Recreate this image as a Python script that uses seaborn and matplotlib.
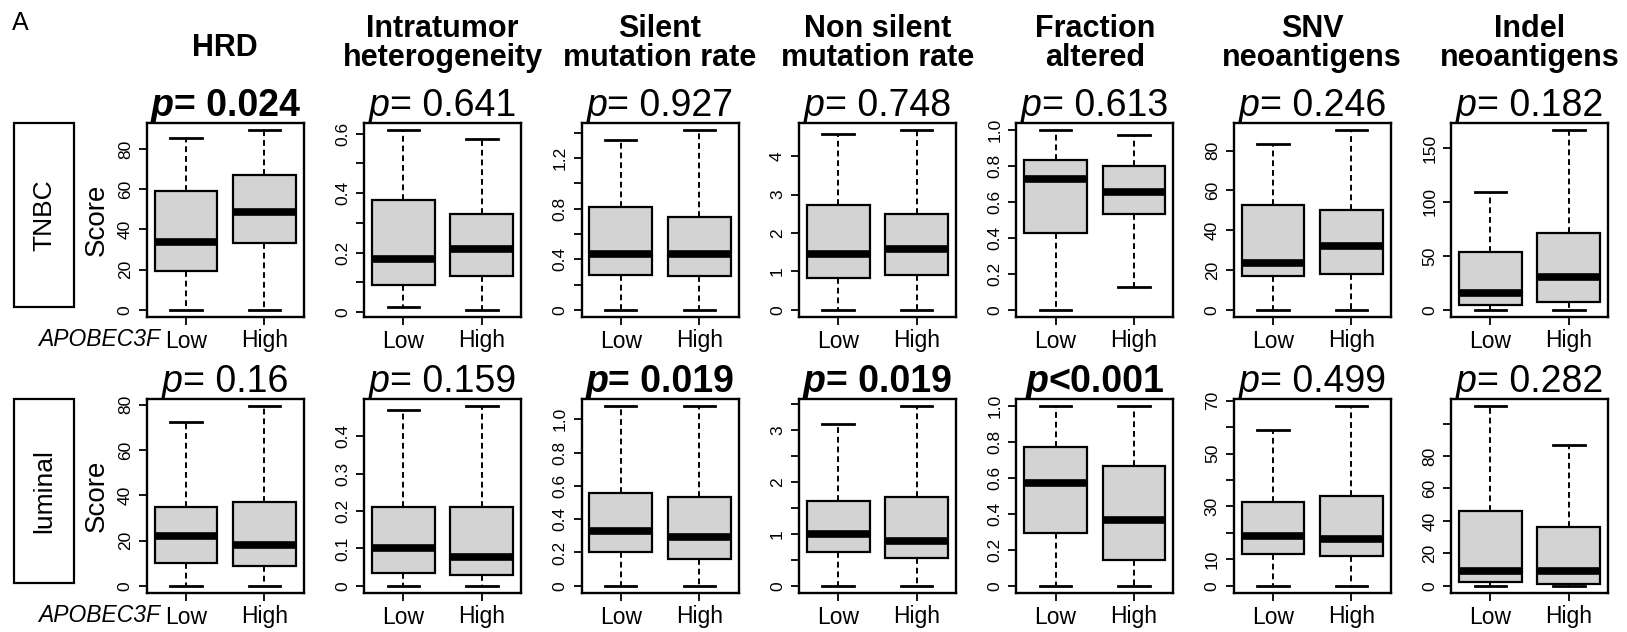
import numpy as np
import pandas as pd
import seaborn as sns
import matplotlib.pyplot as plt
from matplotlib.patches import Rectangle

# ---- data ----
metrics = ["HRD", "Intratumor\nheterogeneity", "Silent\nmutation rate",
           "Non silent\nmutation rate", "Fraction\naltered",
           "SNV\nneoantigens", "Indel\nneoantigens"]
groups = ["Low", "High"]
subtypes = ["TNBC", "luminal"]

tnbc_p = ["= 0.024", "= 0.641", "= 0.927", "= 0.748", "= 0.613", "= 0.246", "= 0.182"]
tnbc_sig = [True, False, False, False, False, False, False]
luminal_p = ["= 0.16", "= 0.159", "= 0.019", "= 0.019", "<0.001", "= 0.499", "= 0.282"]
luminal_sig = [False, False, True, True, True, False, False]

# box stats per group: [lower whisker, Q1, median, Q3, upper whisker]
tnbc_low = [[0, 19.3, 33.7, 59.2, 85.2], [0.017, 0.090, 0.179, 0.376, 0.612],
            [0, 0.278, 0.440, 0.811, 1.340], [0, 0.84, 1.45, 2.72, 4.57],
            [0, 0.430, 0.726, 0.832, 1.0], [0, 16.8, 23.6, 52.9, 83.4],
            [0, 4.0, 15.5, 54.0, 109.0]]
tnbc_high = [[0, 33.0, 48.5, 67.2, 89.3], [0.008, 0.121, 0.211, 0.330, 0.581],
             [0, 0.265, 0.445, 0.731, 1.420], [0, 0.90, 1.58, 2.49, 4.68],
             [0.127, 0.531, 0.657, 0.801, 0.974], [0, 18.2, 32.2, 50.4, 90.3],
             [0, 6.8, 30.4, 71.4, 166.5]]
luminal_low = [[0, 10.2, 22.0, 35.0, 72.2], [0, 0.035, 0.102, 0.210, 0.470],
               [0, 0.201, 0.331, 0.556, 1.078], [0, 0.658, 1.0, 1.645, 3.116],
               [0, 0.292, 0.570, 0.771, 1.0], [0, 12.0, 18.8, 31.5, 58.8],
               [0, 2.5, 9.1, 46.2, 110.7]]
luminal_high = [[0, 8.9, 18.0, 37.0, 79.3], [0, 0.030, 0.078, 0.210, 0.481],
                [0, 0.161, 0.293, 0.532, 1.078], [0, 0.529, 0.865, 1.71, 3.465],
                [0, 0.143, 0.369, 0.669, 1.0], [0, 11.25, 17.7, 34.0, 67.9],
                [0, 1.4, 9.1, 36.3, 86.6]]

tnbc_yticks = [[0, 20, 40, 60, 80], [0, 0.1, 0.2, 0.3, 0.4, 0.5, 0.6],
               [0, 0.2, 0.4, 0.6, 0.8, 1.0, 1.2, 1.4], [0, 1, 2, 3, 4],
               [0, 0.2, 0.4, 0.6, 0.8, 1.0], [0, 20, 40, 60, 80], [0, 50, 100, 150]]
tnbc_ylabels = [["0", "20", "40", "60", "80"], ["0", "", "0.2", "", "0.4", "", "0.6"],
                ["0", "", "0.4", "", "0.8", "", "1.2", ""], ["0", "1", "2", "3", "4"],
                ["0", "0.2", "0.4", "0.6", "0.8", "1.0"], ["0", "20", "40", "60", "80"],
                ["0", "50", "100", "150"]]
luminal_yticks = [[0, 20, 40, 60, 80], [0, 0.1, 0.2, 0.3, 0.4],
                  [0, 0.2, 0.4, 0.6, 0.8, 1.0], [0, 0.5, 1, 1.5, 2, 2.5, 3, 3.5],
                  [0, 0.2, 0.4, 0.6, 0.8, 1.0], [0, 10, 20, 30, 40, 50, 60, 70],
                  [0, 20, 40, 60, 80, 100]]
luminal_ylabels = [["0", "20", "40", "60", "80"], ["0", "0.1", "0.2", "0.3", "0.4"],
                   ["0", "0.2", "0.4", "0.6", "0.8", "1.0"],
                   ["0", "", "1", "", "2", "", "3", ""],
                   ["0", "0.2", "0.4", "0.6", "0.8", "1.0"],
                   ["0", "10", "", "30", "", "50", "", "70"],
                   ["0", "20", "40", "60", "80", ""]]

rows = [
    (tnbc_low, tnbc_high, tnbc_p, tnbc_sig, tnbc_yticks, tnbc_ylabels),
    (luminal_low, luminal_high, luminal_p, luminal_sig, luminal_yticks, luminal_ylabels),
]

# ---- layout (pixels) ----
W, H = 1627, 632
plt.rcParams["font.family"] = ["Liberation Sans", "DejaVu Sans"]
plt.rcParams["text.color"] = "black"

fig = plt.figure(figsize=(W / 100, H / 100), dpi=100)
renderer = fig.canvas.get_renderer()

panel_left0, panel_step, panel_w = 146.7, 217.4, 157
row_top = [123, 399]
panel_h = 194


def fx(x):
    return x / W


def fy(y):
    return 1 - y / H


def p_label(xc, ybase, txt, bold):
    weight = "bold" if bold else "normal"
    t1 = fig.text(0, fy(ybase), "p", fontsize=27, style="italic", weight=weight,
                  ha="left", va="baseline")
    t2 = fig.text(0, fy(ybase), txt, fontsize=27, weight=weight,
                  ha="left", va="baseline")
    w1 = t1.get_window_extent(renderer).width
    w2 = t2.get_window_extent(renderer).width
    x0 = xc - (w1 + w2) / 2
    t1.set_x(fx(x0))
    t2.set_x(fx(x0 + w1))


for r, (low, high, pv, sig, yt, yl) in enumerate(rows):
    top = row_top[r]
    for i in range(len(metrics)):
        left = panel_left0 + panel_step * i
        ax = fig.add_axes([fx(left), fy(top + panel_h), panel_w / W, panel_h / H])
        df = pd.DataFrame({"group": [groups[0]] * 5 + [groups[1]] * 5,
                           "value": low[i] + high[i]})
        sns.boxplot(data=df, x="group", y="value", order=groups, ax=ax,
                    whis=(0, 100), width=0.8, color="#d3d3d3", saturation=1,
                    linecolor="black", linewidth=1.6, showfliers=False,
                    medianprops=dict(linewidth=5.5, color="black"),
                    whiskerprops=dict(linestyle=(0, (3, 2)), linewidth=1.4),
                    capprops=dict(linewidth=2))
        vals = low[i] + high[i]
        lo, hi = min(vals), max(vals)
        rng = hi - lo
        ax.set_ylim(lo - 0.04 * rng, hi + 0.04 * rng)
        ax.set_xlim(-0.5, 1.5)
        ax.set_xlabel("")
        ax.set_ylabel("")
        ax.set_yticks(yt[i])
        ax.set_yticklabels(yl[i], rotation=90, va="center", fontsize=12.5)
        ax.set_xticks([0, 1])
        ax.set_xticklabels(groups, fontsize=16.5)
        ax.tick_params(axis="both", length=6, width=1.3, colors="black")
        ax.tick_params(axis="y", pad=4)
        ax.tick_params(axis="x", pad=3)
        for sp in ax.spines.values():
            sp.set_visible(True)
            sp.set_linewidth(1.7)
            sp.set_color("black")

        xc = left + panel_w / 2
        p_label(xc, top - 7, pv[i], sig[i])

        if r == 0:
            lines = metrics[i].split("\n")
            if len(lines) == 1:
                fig.text(fx(xc), fy(56), lines[0], fontsize=22, weight="bold",
                         ha="center", va="baseline")
            else:
                fig.text(fx(xc), fy(37), lines[0], fontsize=22, weight="bold",
                         ha="center", va="baseline")
                fig.text(fx(xc), fy(66), lines[1], fontsize=22, weight="bold",
                         ha="center", va="baseline")

        if i == 0:
            fig.text(fx(97), fy(top + panel_h / 2), "Score", fontsize=20,
                     rotation=90, ha="center", va="center")
            fig.text(fx(160), fy(top + panel_h + 29), "APOBEC3F", fontsize=16.5,
                     style="italic", ha="right", va="baseline")

    # subtype label box
    box_top, box_bot = top, top + 184
    fig.patches.append(Rectangle((fx(14), fy(box_bot)), 60 / W, (box_bot - box_top) / H,
                                 transform=fig.transFigure, fill=False,
                                 edgecolor="black", linewidth=1.6))
    fig.text(fx(44), fy((box_top + box_bot) / 2), subtypes[r], fontsize=19,
             rotation=90, ha="center", va="center")

fig.text(fx(12), fy(30), "A", fontsize=18, ha="left", va="baseline")

fig.savefig("out.png", dpi=100)
